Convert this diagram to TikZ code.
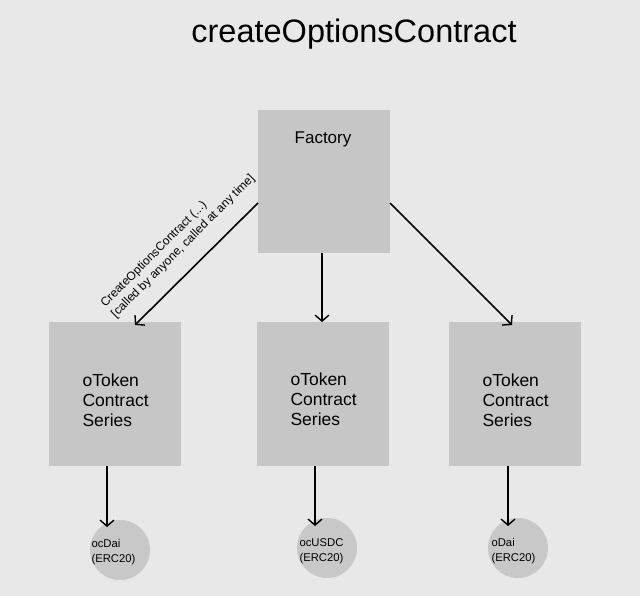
\documentclass[tikz,border=0pt]{standalone}
\usepackage{fontspec}
\setmainfont{Liberation Sans}
\usetikzlibrary{arrows.meta}
\definecolor{bg}{HTML}{E8E8E8}
\definecolor{boxfill}{HTML}{C6C6C6}
\definecolor{circfill}{HTML}{C8C8C8}
\begin{document}
\begin{tikzpicture}[x=1pt,y=-1pt,
  boxnode/.style={fill=boxfill,minimum width=132pt,minimum height=144pt,inner sep=0pt},
  coin/.style={circle,fill=circfill,minimum size=60pt,inner sep=0pt},
  arr/.style={draw=black,line width=1.6pt,-{Straight Barb[length=6pt,width=14pt,line width=1.4pt]}},
  lbl/.style={font=\fontsize{17.5}{20}\selectfont,align=left,anchor=west},
  cointxt/.style={font=\fontsize{11.3}{14.5}\selectfont,align=left,anchor=west}]
\fill[bg] (0,0) rectangle (640,596);
\useasboundingbox (0,0) rectangle (640,596);
\node (title) at (354,34) {\fontsize{32.5}{38}\selectfont createOptionsContract};
\node[boxnode,minimum height=143pt] (fac) at (324,181.5) {};
\node (factxt) at (323,139) {\fontsize{17}{20}\selectfont Factory};
\node[boxnode] (b1) at (115,394) {};
\node[boxnode] (b2) at (323,394) {};
\node[boxnode] (b3) at (515,394) {};
\node[lbl] (t1) at (79,400) {oToken\\Contract\\Series};
\node[lbl] (t2) at (287,399) {oToken\\Contract\\Series};
\node[lbl] (t3) at (479,400) {oToken\\Contract\\Series};
\node[coin] (c1) at (120,550) {};
\node[coin] (c2) at (327,548) {};
\node[coin] (c3) at (518,548) {};
\node[cointxt] (ct1) at (88,552) {ocDai\\(ERC20)};
\node[cointxt] (ct2) at (296,551) {ocUSDC\\(ERC20)};
\node[cointxt] (ct3) at (488,551) {oDai\\(ERC20)};
\coordinate (fl) at (258,203);
\coordinate (fr) at (390,203);
\coordinate (fd) at (322,253);
\draw[arr] (fl) -- (135,325);
\draw[arr] (fd) -- (322,322);
\draw[arr] (fr) -- (512,325);
\draw[arr] (107,466) -- (107,527);
\draw[arr] (315,466) -- (315,526);
\draw[arr] (508,466) -- (508,526);
\node[rotate=45,font=\fontsize{12}{15}\selectfont,align=left] (ann) at (178,241) {CreateOptionsContract (...)\\{}[called by anyone, called at any time]};
\end{tikzpicture}
\end{document}
